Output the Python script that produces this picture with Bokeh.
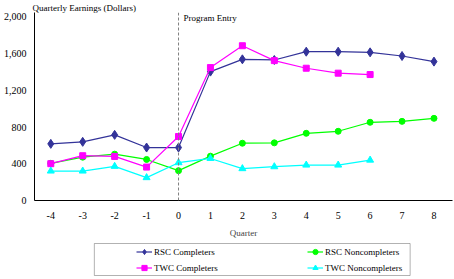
from bokeh.plotting import figure
from bokeh.layouts import column
from bokeh.models import (Legend, LegendItem, Span, Label, BoxAnnotation,
                          FixedTicker, NumeralTickFormatter, PrintfTickFormatter)
from bokeh.embed import file_html
from bokeh.resources import INLINE

# ---- data ----
quarters_rsc = [-4, -3, -2, -1, 0, 1, 2, 3, 4, 5, 6, 7, 8]
quarters_twc = [-4, -3, -2, -1, 0, 1, 2, 3, 4, 5, 6]
rsc_completers = [617, 639, 715, 577, 577, 1404, 1538, 1531, 1621, 1621, 1614, 1574, 1513]
rsc_noncompleters = [405, 472, 505, 447, 325, 483, 624, 628, 732, 754, 852, 862, 895]
twc_completers = [401, 488, 480, 364, 697, 1448, 1686, 1524, 1441, 1387, 1372]
twc_noncompleters = [321, 321, 372, 249, 412, 458, 347, 368, 386, 386, 440]
x_ticks = [-4, -3, -2, -1, 0, 1, 2, 3, 4, 5, 6, 7, 8]
y_ticks = [0, 400, 800, 1200, 1600, 2000]
series_names = ["RSC Completers", "RSC Noncompleters", "TWC Completers", "TWC Noncompleters"]

FONT = "Liberation Serif"
STYLES = {
    "RSC Completers": dict(color="#333399", marker="diamond", size=9),
    "RSC Noncompleters": dict(color="#00FF00", marker="circle", size=6),
    "TWC Completers": dict(color="#FF00FF", marker="square", size=6),
    "TWC Noncompleters": dict(color="#00FFFF", marker="triangle", size=7),
}
data = {
    "RSC Completers": (quarters_rsc, rsc_completers),
    "RSC Noncompleters": (quarters_rsc, rsc_noncompleters),
    "TWC Completers": (quarters_twc, twc_completers),
    "TWC Noncompleters": (quarters_twc, twc_noncompleters),
}

p = figure(width=454, height=240, x_range=(-4.51, 8.58), y_range=(0, 2048),
           output_backend="svg", toolbar_location=None,
           min_border_left=33, min_border_right=2, min_border_top=11,
           min_border_bottom=40)
p.outline_line_color = None
p.xgrid.visible = False
p.ygrid.visible = False

p.title.text = "Quarterly Earnings (Dollars)"
p.title.align = "left"
p.title.offset = -2
p.title.standoff = 0
p.title.text_font = FONT
p.title.text_font_size = "9px"
p.title.text_font_style = "normal"
p.title.text_color = "black"

# axes
p.xaxis.ticker = FixedTicker(ticks=x_ticks)
p.xaxis.formatter = PrintfTickFormatter(format="%d")
p.yaxis.ticker = FixedTicker(ticks=y_ticks)
p.yaxis.formatter = NumeralTickFormatter(format="0,0")
for ax in (p.xaxis[0], p.yaxis[0]):
    ax.major_tick_out = 0
    ax.major_tick_in = 0
    ax.minor_tick_out = 0
    ax.minor_tick_in = 0
    ax.axis_line_color = "black"
    ax.axis_line_width = 1
    ax.major_label_text_font = FONT
    ax.major_label_text_font_size = "10px"
    ax.major_label_text_color = "black"
p.xaxis.major_label_standoff = 11
p.yaxis.major_label_standoff = 8
p.xaxis.axis_label = "Quarter"
p.xaxis.axis_label_text_font = FONT
p.xaxis.axis_label_text_font_size = "9px"
p.xaxis.axis_label_text_font_style = "normal"
p.xaxis.axis_label_standoff = 6

# program entry line
p.add_layout(Span(location=0, dimension="height", line_color="#808080",
                  line_dash="3 2", line_width=1))
p.add_layout(Label(x=0, y=2048, x_offset=5, text="Program Entry", text_font=FONT,
                   text_font_size="9px", text_baseline="top", text_align="left",
                   text_color="black"))

# series
for name in series_names:
    xs, ys = data[name]
    st = STYLES[name]
    p.line(xs, ys, line_color=st["color"], line_width=1.2)
    p.scatter(xs, ys, marker=st["marker"], size=st["size"],
              fill_color=st["color"], line_color=st["color"])

# ---- legend strip ----
leg = figure(width=454, height=39, x_range=(0, 454), y_range=(0, 39),
             output_backend="svg", toolbar_location=None,
             x_axis_location=None, y_axis_location=None,
             min_border=0, min_border_left=0, min_border_right=0,
             min_border_top=0, min_border_bottom=0)
leg.outline_line_color = None
leg.xgrid.visible = False
leg.ygrid.visible = False
leg.add_layout(BoxAnnotation(left=65, right=408, bottom=4, top=36,
                             fill_alpha=0, line_color="black", line_width=1))

items = {}
for name in series_names:
    xs, ys = data[name]
    st = STYLES[name]
    # same series (outside this strip's visible range) so the legend shows its glyphs
    rl = leg.line(xs, ys, line_color=st["color"], line_width=1.2)
    rm = leg.scatter(xs, ys, marker=st["marker"], size=st["size"],
                     fill_color=st["color"], line_color=st["color"])
    items[name] = LegendItem(label=name, renderers=[rl, rm])

def make_legend(its, loc):
    return Legend(items=its, location=loc, orientation="vertical",
                  border_line_alpha=0, background_fill_alpha=0,
                  padding=0, margin=0, spacing=3, glyph_width=16, glyph_height=13,
                  label_height=13, label_standoff=2, label_text_font=FONT,
                  label_text_font_size="9px", label_text_color="black")

leg.add_layout(make_legend([items["RSC Completers"], items["TWC Completers"]], (102, 5)))
leg.add_layout(make_legend([items["RSC Noncompleters"], items["TWC Noncompleters"]], (273, 5)))

layout = column(p, leg, spacing=0)
open("out.html", "w").write(file_html(layout, INLINE))
